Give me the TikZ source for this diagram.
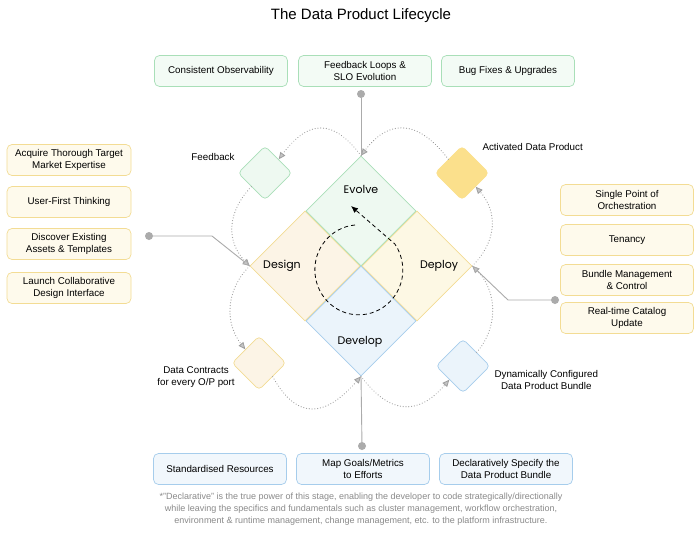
\documentclass[tikz,border=0pt]{standalone}
\usepackage{fontspec}
\setmainfont{Liberation Sans}
\newfontfamily\stagefont{Poppins}
\usetikzlibrary{shapes.geometric,arrows.meta}

\definecolor{evgreen}{HTML}{A9DFB8}
\definecolor{evfill}{HTML}{EEF9F1}
\definecolor{dsyellow}{HTML}{F3DC94}
\definecolor{dsfill}{HTML}{FCF4E6}
\definecolor{dpfill}{HTML}{FDF8E4}
\definecolor{dvblue}{HTML}{A6CDEC}
\definecolor{dvfill}{HTML}{EBF4FB}
\definecolor{adpyellow}{HTML}{FBE08C}
\definecolor{linegray}{HTML}{ABABAB}
\definecolor{dotgray}{HTML}{9E9E9E}
\definecolor{tipgray}{HTML}{C4C4C4}
\definecolor{notegray}{HTML}{8A8A8A}

\begin{document}
\begin{tikzpicture}[x=1pt, y=-1pt,
  every node/.style={align=center, font=\fontsize{9.8}{12}\selectfont},
  stage/.style={diamond, minimum size=110pt, inner sep=0pt, line width=0.7pt},
  ministage/.style={diamond, minimum size=54pt, inner sep=0pt, rounded corners=4pt, line width=0.7pt},
  stagetext/.style={font=\stagefont\fontsize{11}{13}\selectfont},
  card/.style={draw, rounded corners=5pt, minimum width=133pt, minimum height=31pt, inner sep=2pt, line width=0.7pt},
  greencard/.style={card, draw=evgreen, fill=evfill!70},
  yellowcard/.style={card, draw=dsyellow, fill=dpfill!70},
  bluecard/.style={card, draw=dvblue, fill=dvfill!70},
  flow/.style={draw=dotgray, line width=1.2pt, dash pattern=on 0.01pt off 2.8pt, line cap=round,
    -{Triangle[length=7pt, width=6pt, fill=tipgray, line width=0.8pt]}},
  pinline/.style={draw=linegray, line width=0.9pt},
  pin/.style={circle, fill=linegray, inner sep=0pt, minimum size=8pt}]

\useasboundingbox (0,0) rectangle (700,535);
\fill[white] (0,0) rectangle (700,535);

\node[font=\fontsize{15}{17}\selectfont] (title) at (361,16) {The Data Product Lifecycle};

%the four stages
\node[stage, draw=dsyellow, fill=dsfill] (design) at (305,266) {};
\node[stage, draw=dsyellow, fill=dpfill] (deploy) at (417,266) {};
\node[stage, draw=evgreen, fill=evfill] (evolve) at (361,211) {};
\node[stage, draw=dvblue, fill=dvfill] (develop) at (361,321) {};

\node[stagetext] (evolvetxt) at (361,189) {Evolve};
\node[stagetext] (designtxt) at (282,266) {Design};
\node[stagetext] (deploytxt) at (439,266) {Deploy};
\node[stagetext] (developtxt) at (360,342) {Develop};

%cycle in the middle
\draw[line width=0.8pt, dash pattern=on 4pt off 3pt, -{Latex[length=7pt,width=6pt]}]
  (355,225) arc[start angle=265, end angle=-35, x radius=44, y radius=45] -- (351,206);

%small stages between
\node[ministage, draw=evgreen, fill=evfill] (fb) at (265,173) {};
\node[ministage, draw=adpyellow, fill=adpyellow] (adp) at (462,173) {};
\node[ministage, draw=dsyellow, fill=dsfill] (dc) at (259,363) {};
\node[ministage, draw=dvblue, fill=dvfill] (dcb) at (463,366) {};

\node (fblbl) at (213,157) {Feedback};
\node[anchor=west] (adplbl) at (479,147) {Activated Data Product};
\node (dclbl) at (196,377) {Data Contracts\\for every O/P port};
\node[anchor=west] (dcblbl) at (491,380) {Dynamically Configured\\Data Product Bundle};

%dotted loop
\draw[flow] (adp.north west) .. controls +(-30,-40) and +(28,-37) .. (evolve.north);
\draw[flow] (evolve.north) .. controls +(-28,-37) and +(30,-40) .. (fb.north east);
\draw[flow] (fb.south west) .. controls +(-24,25) and +(-24,-25) .. (design.west);
\draw[flow] (design.west) .. controls +(-25,25) and +(-20,-25) .. (dc.north west);
\draw[flow] (dc.south east) .. controls +(25,45) and +(-35,40) .. (develop.south);
\draw[flow] (develop.south) .. controls +(30,40) and +(-30,35) .. (dcb.south west);
\draw[flow] (dcb.north east) .. controls +(22,-25) and +(25,25) .. (deploy.east);
\draw[flow] (deploy.east) .. controls +(25,-25) and +(22,25) .. (adp.south east);

%cards round the stages
\foreach \nm/\x/\txt in {obs/221/{Consistent Observability}, loops/365/{Feedback Loops \&\\SLO Evolution}, bugs/508/{Bug Fixes \& Upgrades}}
  \node[greencard] (\nm) at (\x,71) {\txt};
\foreach \nm/\y/\txt in {acq/160/{Acquire Thorough Target\\Market Expertise}, user/202/{User-First Thinking}, disc/244/{Discover Existing\\Assets \& Templates}, launch/288/{Launch Collaborative\\Design Interface}}
  \node[yellowcard, minimum width=124pt] (\nm) at (69,\y) {\txt};
\foreach \nm/\y/\txt in {spo/200/{Single Point of\\Orchestration}, ten/240/{Tenancy}, bundle/280/{Bundle Management\\\& Control}, catalog/318/{Real-time Catalog\\Update}}
  \node[yellowcard] (\nm) at (627,\y) {\txt};
\foreach \nm/\x/\txt in {std/220/{Standardised Resources}, goals/363/{Map Goals/Metrics\\to Efforts}, decl/506/{Declaratively Specify the\\Data Product Bundle}}
  \node[bluecard] (\nm) at (\x,469) {\txt};

%pins into the stages
\node[pin] (pintop) at (361,94) {};
\node[pin] (pinleft) at (149,236) {};
\node[pin] (pinright) at (555,300) {};
\node[pin] (pinbottom) at (362,446) {};
\draw[pinline] (pintop) -- (evolve.north);
\draw[pinline] (pinbottom) -- (develop.south);
\draw[pinline, -{Triangle[length=7pt, width=6pt, fill=tipgray]}] (pinleft) -- ++(63,0) -- (design.west);
\draw[pinline, -{Triangle[length=7pt, width=6pt, fill=tipgray]}] (pinright) -- ++(-47,0) -- (deploy.east);

\node[font=\fontsize{9}{12}\selectfont, text=notegray] (note) at (361,509)
  {*"Declarative" is the true power of this stage, enabling the developer to code strategically/directionally\\
   while leaving the specifics and fundamentals such as cluster management, workflow orchestration,\\
   environment \& runtime management, change management, etc. to the platform infrastructure.};

\end{tikzpicture}
\end{document}
